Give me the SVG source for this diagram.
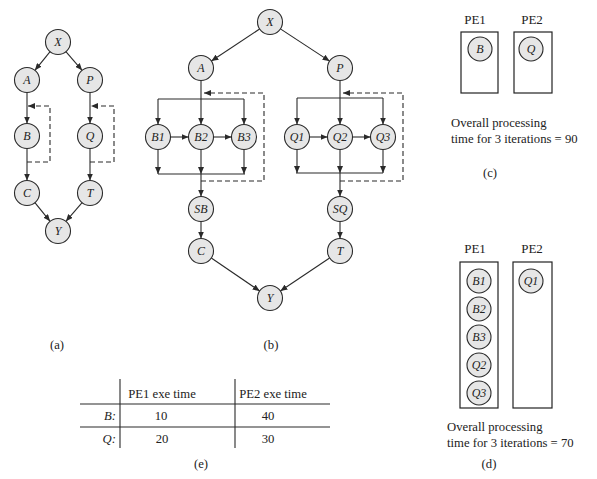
<svg xmlns="http://www.w3.org/2000/svg" width="597" height="479" viewBox="0 0 597 479">
<style>
.n circle{fill:#e6e6e6;stroke:#2a2a2a;stroke-width:1.1}
.n text{font-family:"Liberation Serif","Times New Roman",serif;font-style:italic;font-size:12px;fill:#222;text-anchor:middle}
.c{stroke:#2a2a2a;stroke-width:1.1;fill:none}
.a{marker-end:url(#ah)}
.d{stroke-dasharray:5,3}
.t{font-family:"Liberation Serif","Times New Roman",serif;font-size:12.7px;fill:#222}
.m{text-anchor:middle}
.box{fill:#fff;stroke:#222;stroke-width:1.2}
</style>
<defs>
<marker id="ah" markerUnits="userSpaceOnUse" markerWidth="8" markerHeight="6" refX="7" refY="3" orient="auto">
<path d="M0,0 L7,3 L0,6 z" fill="#2a2a2a"/>
</marker>
</defs>
<rect width="597" height="479" fill="#fff"/>
<g id="connectors">
<!-- (a) -->
<line class="c a" x1="50.1" y1="51.7" x2="34.9" y2="70.3"/>
<line class="c a" x1="65.9" y1="51.7" x2="82.1" y2="70.3"/>
<line class="c a" x1="27" y1="92.5" x2="27" y2="123.5"/>
<line class="c a" x1="90" y1="92.5" x2="90" y2="123.5"/>
<line class="c a" x1="27" y1="148.5" x2="27" y2="180.5"/>
<line class="c a" x1="90" y1="148.5" x2="90" y2="180.5"/>
<line class="c a" x1="34.9" y1="202.7" x2="50.1" y2="221.3"/>
<line class="c a" x1="82.1" y1="202.7" x2="65.9" y2="221.3"/>
<path class="c a d" d="M27,162 H50 V106 H28"/>
<path class="c a d" d="M90,162 H114 V106 H91"/>
<!-- (b) -->
<line class="c a" x1="259.6" y1="29" x2="211.4" y2="61"/>
<line class="c a" x1="280.4" y1="28.9" x2="329.6" y2="61.1"/>
<line class="c a" x1="201" y1="80.5" x2="201" y2="124.5"/>
<path class="c" d="M158,99 H244"/>
<line class="c a" x1="158" y1="99" x2="158" y2="124.5"/>
<line class="c a" x1="244" y1="99" x2="244" y2="124.5"/>
<line class="c a" x1="170.5" y1="137" x2="188.5" y2="137"/>
<line class="c a" x1="213.5" y1="137" x2="231.5" y2="137"/>
<line class="c a" x1="158" y1="149.5" x2="158" y2="174"/>
<line class="c a" x1="201" y1="149.5" x2="201" y2="174"/>
<line class="c a" x1="244" y1="149.5" x2="244" y2="174"/>
<path class="c" d="M158,174 H245"/>
<line class="c a" x1="201" y1="174" x2="201" y2="196.5"/>
<line class="c a" x1="201" y1="221.5" x2="201" y2="238.5"/>
<path class="c a d" d="M201,181 H264 V93 H204"/>
<line class="c a" x1="340" y1="80.5" x2="340" y2="124.5"/>
<path class="c" d="M297,98 H383"/>
<line class="c a" x1="297" y1="98" x2="297" y2="124.5"/>
<line class="c a" x1="383" y1="98" x2="383" y2="124.5"/>
<line class="c a" x1="309.5" y1="137" x2="327.5" y2="137"/>
<line class="c a" x1="352.5" y1="137" x2="370.5" y2="137"/>
<line class="c a" x1="297" y1="149.5" x2="297" y2="173"/>
<line class="c a" x1="340" y1="149.5" x2="340" y2="173"/>
<line class="c a" x1="383" y1="149.5" x2="383" y2="173"/>
<path class="c" d="M296,173 H383"/>
<line class="c a" x1="340" y1="173" x2="340" y2="196.5"/>
<line class="c a" x1="340" y1="221.5" x2="340" y2="238.5"/>
<path class="c a d" d="M340,181 H403 V93 H343"/>
<line class="c a" x1="211.3" y1="258" x2="259.7" y2="291"/>
<line class="c a" x1="329.6" y1="258" x2="280.4" y2="291"/>
</g>
<!-- (a) nodes -->
<g id="a-X" class="n"><circle cx="58" cy="42" r="12.5"/><text x="58" y="46">X</text></g>
<g id="a-A" class="n"><circle cx="27" cy="80" r="12.5"/><text x="27" y="84">A</text></g>
<g id="a-P" class="n"><circle cx="90" cy="80" r="12.5"/><text x="90" y="84">P</text></g>
<g id="a-B" class="n"><circle cx="27" cy="136" r="12.5"/><text x="27" y="140">B</text></g>
<g id="a-Q" class="n"><circle cx="90" cy="136" r="12.5"/><text x="90" y="140">Q</text></g>
<g id="a-C" class="n"><circle cx="27" cy="193" r="12.5"/><text x="27" y="197">C</text></g>
<g id="a-T" class="n"><circle cx="90" cy="193" r="12.5"/><text x="90" y="197">T</text></g>
<g id="a-Y" class="n"><circle cx="58" cy="231" r="12.5"/><text x="58" y="235">Y</text></g>
<!-- (b) nodes -->
<g id="b-X" class="n"><circle cx="270" cy="22" r="12.5"/><text x="270" y="26">X</text></g>
<g id="b-A" class="n"><circle cx="201" cy="68" r="12.5"/><text x="201" y="72">A</text></g>
<g id="b-P" class="n"><circle cx="340" cy="68" r="12.5"/><text x="340" y="72">P</text></g>
<g id="b-B1" class="n"><circle cx="158" cy="137" r="12.5"/><text x="158" y="141">B1</text></g>
<g id="b-B2" class="n"><circle cx="201" cy="137" r="12.5"/><text x="201" y="141">B2</text></g>
<g id="b-B3" class="n"><circle cx="244" cy="137" r="12.5"/><text x="244" y="141">B3</text></g>
<g id="b-Q1" class="n"><circle cx="297" cy="137" r="12.5"/><text x="297" y="141">Q1</text></g>
<g id="b-Q2" class="n"><circle cx="340" cy="137" r="12.5"/><text x="340" y="141">Q2</text></g>
<g id="b-Q3" class="n"><circle cx="383" cy="137" r="12.5"/><text x="383" y="141">Q3</text></g>
<g id="b-SB" class="n"><circle cx="201" cy="209" r="12.5"/><text x="201" y="213">SB</text></g>
<g id="b-SQ" class="n"><circle cx="340" cy="209" r="12.5"/><text x="340" y="213">SQ</text></g>
<g id="b-C" class="n"><circle cx="201" cy="251" r="12.5"/><text x="201" y="255">C</text></g>
<g id="b-T" class="n"><circle cx="340" cy="251" r="12.5"/><text x="340" y="255">T</text></g>
<g id="b-Y" class="n"><circle cx="270" cy="298" r="12.5"/><text x="270" y="302">Y</text></g>
<!-- (c) -->
<g id="c-PE1"><text class="t m" x="475" y="24" style="font-size:13px">PE1</text><rect class="box" x="461" y="32" width="37" height="61"/></g>
<g id="c-PE2"><text class="t m" x="532" y="24" style="font-size:13px">PE2</text><rect class="box" x="514" y="32" width="38" height="61"/></g>
<g id="c-B" class="n"><circle cx="480" cy="49" r="12"/><text x="480" y="53">B</text></g>
<g id="c-Q" class="n"><circle cx="531" cy="49" r="12"/><text x="531" y="53">Q</text></g>
<text class="t" x="451" y="127">Overall processing</text>
<text class="t" x="451" y="143">time for 3 iterations = 90</text>
<text class="t m" x="490" y="177">(c)</text>
<!-- (d) -->
<g id="d-PE1"><text class="t m" x="475" y="253" style="font-size:13px">PE1</text><rect class="box" x="460" y="262" width="38" height="146"/></g>
<g id="d-PE2"><text class="t m" x="532" y="253" style="font-size:13px">PE2</text><rect class="box" x="513" y="262" width="39" height="146"/></g>
<g id="d-B1" class="n"><circle cx="479" cy="281" r="12"/><text x="479" y="285">B1</text></g>
<g id="d-B2" class="n"><circle cx="479" cy="309" r="12"/><text x="479" y="313">B2</text></g>
<g id="d-B3" class="n"><circle cx="479" cy="337" r="12"/><text x="479" y="341">B3</text></g>
<g id="d-Q2" class="n"><circle cx="479" cy="365" r="12"/><text x="479" y="369">Q2</text></g>
<g id="d-Q3" class="n"><circle cx="479" cy="393" r="12"/><text x="479" y="397">Q3</text></g>
<g id="d-Q1" class="n"><circle cx="531" cy="281" r="12"/><text x="531" y="285">Q1</text></g>
<text class="t" x="447" y="431">Overall processing</text>
<text class="t" x="447" y="447">time for 3 iterations = 70</text>
<text class="t m" x="489" y="468">(d)</text>
<!-- labels -->
<text class="t m" x="57" y="349">(a)</text>
<text class="t m" x="271" y="349">(b)</text>
<!-- (e) table -->
<g id="table">
<path class="c" d="M120,379 V448 M235,379 V448 M80,404 H330 M80,427 H330"/>
<text class="t m" x="162" y="398">PE1 exe time</text>
<text class="t m" x="273" y="398">PE2 exe time</text>
<text class="t" x="116" y="420" style="font-style:italic;text-anchor:end">B:</text>
<text class="t m" x="161" y="420">10</text>
<text class="t m" x="268" y="420">40</text>
<text class="t" x="116" y="443" style="font-style:italic;text-anchor:end">Q:</text>
<text class="t m" x="162" y="443">20</text>
<text class="t m" x="268" y="443">30</text>
<text class="t m" x="201" y="468">(e)</text>
</g>
</svg>
